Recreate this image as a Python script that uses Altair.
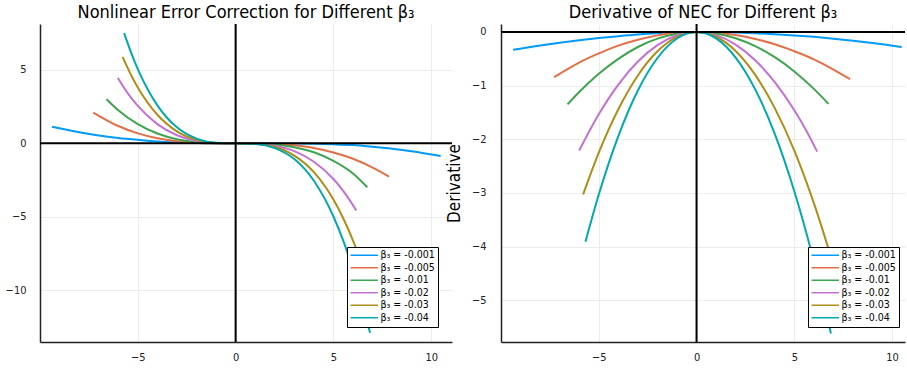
import altair as alt
import pandas as pd

FONT = "Liberation Sans Narrow, DejaVu Sans Condensed, sans-serif"

LABELS = ["β₃ = -0.001", "β₃ = -0.005", "β₃ = -0.01", "β₃ = -0.02", "β₃ = -0.03", "β₃ = -0.04"]
COLORS = ["#009AFA", "#E36F47", "#3EA44E", "#C271D2", "#AC8E18", "#00A9AD"]

# ---- Nonlinear Error Correction curves ----
NEC_X_1 = [-9.38, -8, -7, -6, -5, -4, -3, -2, -1, 0, 1, 2, 3, 4, 5, 6, 7, 8, 9, 10.48]
NEC_Y_1 = [1.13, 0.76, 0.54, 0.37, 0.24, 0.13, 0.065, 0.024, 0.004, 0, -0.0002, -0.003, -0.011, -0.03, -0.065, -0.12, -0.23, -0.36, -0.54, -0.86]
NEC_X_2 = [-7.28, -6, -5, -4, -3, -2, -1, 0, 1, 2, 3, 4, 5, 6, 7, 7.84]
NEC_Y_2 = [2.10, 1.18, 0.68, 0.35, 0.15, 0.044, 0.005, 0, -0.005, -0.04, -0.13, -0.31, -0.62, -1.05, -1.65, -2.26]
NEC_X_3 = [-6.6, -6, -5, -4, -3, -2, -1, 0, 1, 2, 3, 4, 5, 6, 6.73]
NEC_Y_3 = [3.01, 2.26, 1.31, 0.67, 0.28, 0.084, 0.01, 0, -0.01, -0.077, -0.26, -0.61, -1.19, -2.05, -2.99]
NEC_X_4 = [-6.02, -5.5, -5, -4, -3, -2, -1, 0, 1, 2, 3, 4, 5, 5.6, 6.17]
NEC_Y_4 = [4.46, 3.39, 2.55, 1.31, 0.55, 0.163, 0.02, 0, -0.019, -0.156, -0.525, -1.25, -2.43, -3.42, -4.57]
NEC_X_5 = [-5.78, -5.3, -5, -4, -3, -2, -1, 0, 1, 2, 3, 4, 5, 5.5, 6, 6.5, 7]
NEC_Y_5 = [5.89, 4.54, 3.81, 1.95, 0.82, 0.244, 0.03, 0, -0.03, -0.245, -0.83, -1.96, -3.83, -5.1, -6.62, -8.4, -10.5]
NEC_X_6 = [-5.7, -5.3, -5, -4, -3, -2, -1, 0, 1, 2, 3, 4, 5, 5.5, 6, 6.5, 6.87]
NEC_Y_6 = [7.51, 6.03, 5.06, 2.59, 1.09, 0.324, 0.04, 0, -0.04, -0.32, -1.07, -2.55, -4.98, -6.62, -8.6, -10.93, -12.9]

# ---- Derivative curves ----
DER_X_1 = [-9.38, -8, -7, -6, -5, -4, -3, -2, -1, 0, 1, 2, 3, 4, 5, 6, 7, 8, 9, 10.49]
DER_Y_1 = [-0.33, -0.25, -0.20, -0.154, -0.113, -0.078, -0.047, -0.024, -0.007, 0, -0.003, -0.010, -0.023, -0.041, -0.064, -0.091, -0.124, -0.163, -0.206, -0.28]
DER_X_2 = [-7.28, -6, -5, -4, -3, -2, -1, 0, 1, 2, 3, 4, 5, 6, 7, 7.85]
DER_Y_2 = [-0.84, -0.57, -0.40, -0.254, -0.143, -0.063, -0.016, 0, -0.014, -0.057, -0.129, -0.23, -0.36, -0.51, -0.70, -0.88]
DER_X_3 = [-6.6, -6, -5, -4, -3, -2, -1, 0, 1, 2, 3, 4, 5, 6, 6.75]
DER_Y_3 = [-1.35, -1.12, -0.78, -0.50, -0.28, -0.124, -0.031, 0, -0.029, -0.118, -0.265, -0.47, -0.735, -1.06, -1.34]
DER_X_4 = [-6.0, -5, -4, -3, -2, -1, 0, 1, 2, 3, 4, 5, 5.6, 6.17]
DER_Y_4 = [-2.21, -1.535, -0.98, -0.55, -0.245, -0.061, 0, -0.059, -0.234, -0.527, -0.936, -1.46, -1.83, -2.23]
DER_X_5 = [-5.8, -5, -4, -3, -2, -1, 0, 1, 2, 3, 4, 5, 6, 7]
DER_Y_5 = [-3.03, -2.25, -1.44, -0.81, -0.36, -0.09, 0, -0.089, -0.354, -0.80, -1.42, -2.21, -3.19, -4.34]
DER_X_6 = [-5.68, -5, -4, -3, -2, -1, 0, 1, 2, 3, 4, 5, 6, 6.87]
DER_Y_6 = [-3.91, -3.03, -1.94, -1.09, -0.485, -0.121, 0, -0.119, -0.476, -1.07, -1.90, -2.97, -4.28, -5.62]

X_TICKS = [-5, 0, 5, 10]
NEC_Y_TICKS = [-10, -5, 0, 5]
DER_Y_TICKS = [0, -1, -2, -3, -4, -5]


def build(xs_list, ys_list):
    rows = []
    for lab, xs, ys in zip(LABELS, xs_list, ys_list):
        for i, (x, y) in enumerate(zip(xs, ys)):
            rows.append({"beta": lab, "x": x, "y": y, "i": i})
    return pd.DataFrame(rows)


nec_df = build([NEC_X_1, NEC_X_2, NEC_X_3, NEC_X_4, NEC_X_5, NEC_X_6],
               [NEC_Y_1, NEC_Y_2, NEC_Y_3, NEC_Y_4, NEC_Y_5, NEC_Y_6])
der_df = build([DER_X_1, DER_X_2, DER_X_3, DER_X_4, DER_X_5, DER_X_6],
               [DER_Y_1, DER_Y_2, DER_Y_3, DER_Y_4, DER_Y_5, DER_Y_6])


def panel(df, xdom, ydom, yticks, title, ytitle, w, h, yextent, ylabpad, ytitlepad):
    xaxis = alt.Axis(values=X_TICKS, title=None, grid=True, gridColor="#ececec", gridWidth=1,
                     ticks=False, domainColor="#222222", domainWidth=1.5, labelFont=FONT,
                     labelFontSize=11, labelColor="#222222", labelPadding=9)
    yargs = dict(values=yticks, grid=True, gridColor="#ececec", gridWidth=1, ticks=False,
                 domainColor="#222222", domainWidth=1.5, labelFont=FONT, labelFontSize=11,
                 labelColor="#222222", labelPadding=ylabpad, minExtent=yextent, maxExtent=yextent)
    if ytitle:
        yaxis = alt.Axis(title=ytitle, titleFont=FONT, titleFontSize=17, titleFontWeight="normal",
                         titleColor="black", titlePadding=ytitlepad, **yargs)
    else:
        yaxis = alt.Axis(title=None, **yargs)
    legend = alt.Legend(orient="none", legendX=307, legendY=223, title=None,
                        symbolType="M-4.7,0H22.7", symbolSize=4, symbolStrokeWidth=1.5,
                        labelFont=FONT, labelFontSize=10.5, labelColor="black", labelOffset=20,
                        padding=3, rowPadding=1.5, strokeColor="black", fillColor="white")
    lines = alt.Chart(df).mark_line(strokeWidth=2, interpolate="monotone", clip=True).encode(
        x=alt.X("x:Q", scale=alt.Scale(domain=xdom, nice=False, zero=False), axis=xaxis),
        y=alt.Y("y:Q", scale=alt.Scale(domain=ydom, nice=False, zero=False), axis=yaxis),
        color=alt.Color("beta:N", scale=alt.Scale(domain=LABELS, range=COLORS), legend=legend),
        order=alt.Order("i:Q"),
    )
    one = pd.DataFrame({"z": [0]})
    hz = alt.Chart(one).mark_rule(color="black", strokeWidth=2).encode(y=alt.Y("z:Q"))
    vz = alt.Chart(one).mark_rule(color="black", strokeWidth=2).encode(x=alt.X("z:Q"))
    return alt.layer(lines, hz, vz).properties(
        width=w, height=h,
        title=alt.TitleParams(title, font=FONT, fontSize=18, fontWeight="normal", color="black",
                              offset=1, anchor="middle", frame="group"),
    )


left = panel(nec_df, [-10.0, 11.06], [-13.53, 8.13], NEC_Y_TICKS,
             "Nonlinear Error Correction for Different β₃", None, 412, 318, 30, 14, 0)
right = panel(der_df, [-10.0, 10.66], [-5.78, 0.149], DER_Y_TICKS,
              "Derivative of NEC for Different β₃", "Derivative", 404, 318, 25, 15, 13)

chart = alt.hconcat(left, right, spacing=-8).resolve_scale(color="independent").resolve_legend(
    color="independent"
).properties(padding={"left": 5, "top": 4, "right": 0, "bottom": 0}).configure_view(stroke=None)

chart.save("out.html", embed_options={"renderer": "svg", "actions": False})
